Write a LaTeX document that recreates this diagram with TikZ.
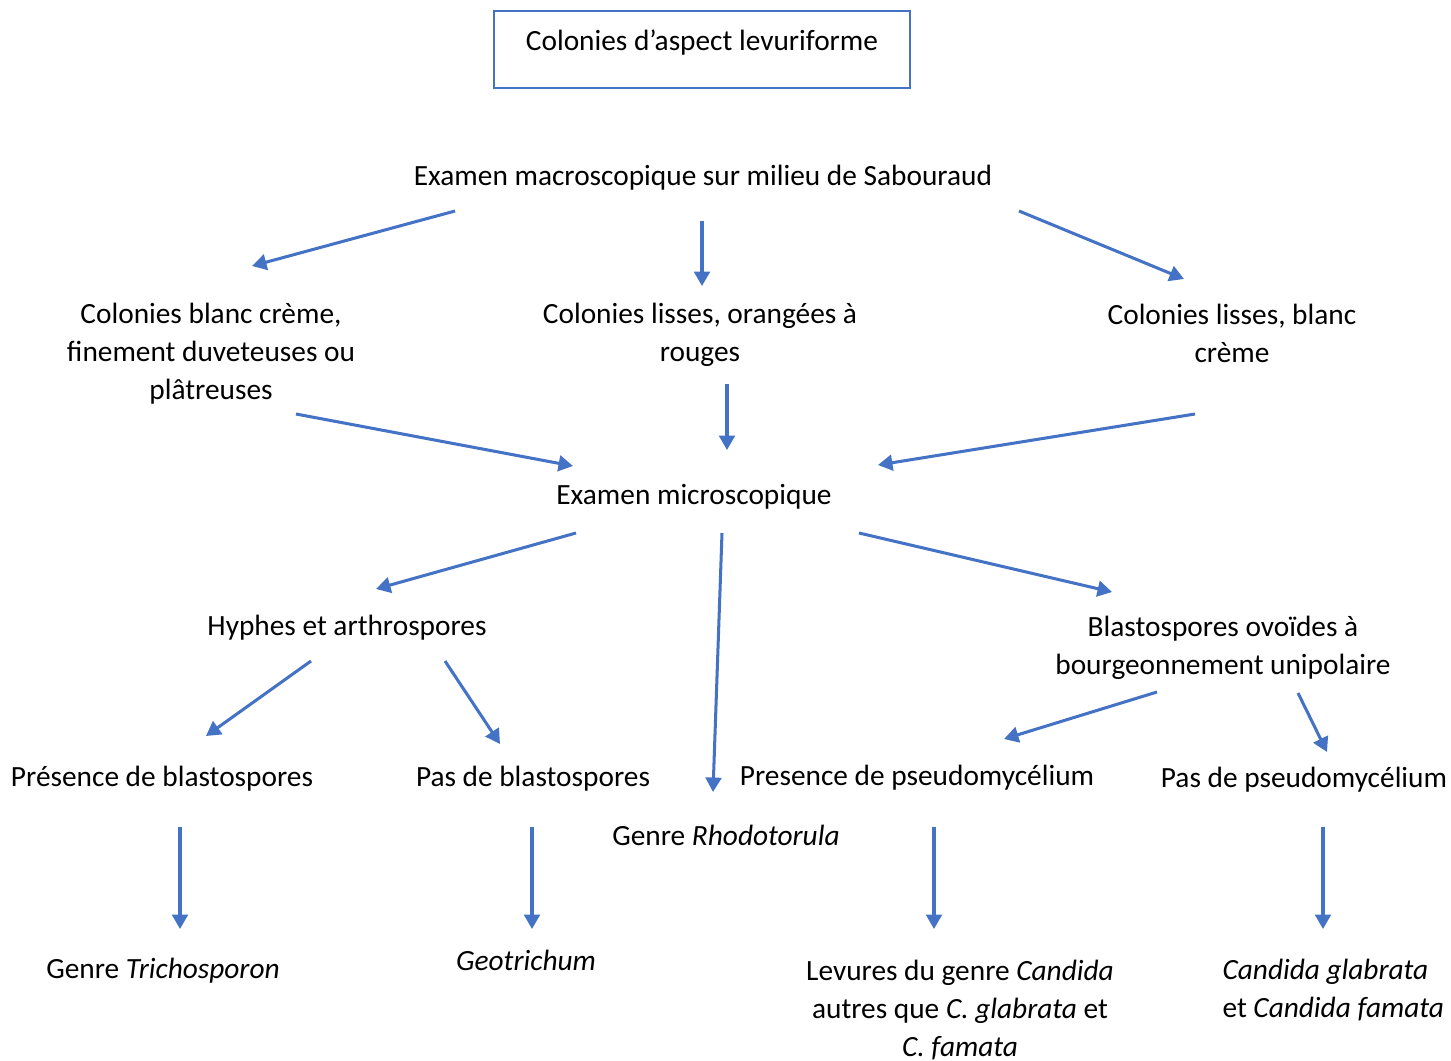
\documentclass[tikz,border=0pt]{standalone}
\usepackage{fontspec}
\setmainfont{Carlito}
\usepackage{tikz}
\usetikzlibrary{arrows.meta}
\definecolor{accentblue}{HTML}{4472C4}
\tikzset{
  label/.style={inner sep=0pt, align=center, yshift=-0.7pt, font=\fontsize{11.15}{14.4}\selectfont},
  arrow/.style={draw=accentblue, line width=1.15pt, -{Triangle[length=5.5pt,width=6pt]}}
}

\begin{document}
\begin{tikzpicture}[x=0.38pt, y=-0.38pt]
%%% bounding box %%%
\useasboundingbox (0,0) rectangle (1451,1061);

      \node[label, draw=accentblue, line width=0.6pt, minimum width=158pt, yshift=0.7pt,
            text height=14.8pt, text depth=14.4pt, inner ysep=0pt] (colonies) at (702,49.5)
            {Colonies d’aspect levuriforme};
      %%
      \node[label] (macro) at (703,176) {Examen macroscopique sur milieu de Sabouraud};
      %% first level
      \node[label] (platreuses) at (211,352) {Colonies blanc crème,\\ finement duveteuses ou\\ plâtreuses};
      \node[label] (rouges) at (700,333) {Colonies lisses, orangées à\\ rouges};
      \node[label] (creme) at (1232,332) {Colonies lisses, blanc\\ crème};
      %%
      \node[label] (micro) at (694,495) {Examen microscopique};
      %% second level
      \node[label] (hyphes) at (347,626) {Hyphes et arthrospores};
      \node[label] (blasto) at (1223,646) {Blastospores ovoïdes à\\ bourgeonnement unipolaire};
      %% third level
      \node[label] (presblasto) at (162,777) {Présence de blastospores};
      \node[label] (pasblasto) at (533,777) {Pas de blastospores};
      \node[label] (rhodo) at (726,834) {Genre \textit{Rhodotorula}};
      \node[label] (prespseudo) at (917,776) {Presence de pseudomycélium};
      \node[label] (paspseudo) at (1304,778) {Pas de pseudomycélium};
      %% results
      \node[label] (tricho) at (163,969) {Genre \textit{Trichosporon}};
      \node[label] (geo) at (526,959) {\textit{Geotrichum}};
      \node[label] (candida) at (960,1008) {Levures du genre \textit{Candida}\\ autres que \textit{C. glabrata} et\\ \textit{C. famata}};
      \node[label, align=left, anchor=west] (glabrata) at (1222,988) {\textit{Candida glabrata}\\ et \textit{Candida famata}};

%%% arrow ends %%%
      \coordinate (m1) at (455,211);  \coordinate (p1) at (252,266);
      \coordinate (m2) at (702,221);  \coordinate (r1) at (702,286);
      \coordinate (m3) at (1019,211); \coordinate (c1) at (1184,279);
      \coordinate (p2) at (296,414);  \coordinate (x1) at (573,466);
      \coordinate (r2) at (727,384);  \coordinate (x2) at (727,450);
      \coordinate (c2) at (1195,414); \coordinate (x3) at (878,465);
      \coordinate (x4) at (576,533);  \coordinate (h1) at (376,589);
      \coordinate (x5) at (722,533);  \coordinate (rh) at (713,792);
      \coordinate (x6) at (859,533);  \coordinate (b1) at (1112,592);
      \coordinate (h2) at (311,661);  \coordinate (pb1) at (206,736);
      \coordinate (h3) at (445,661);  \coordinate (nb1) at (500,744);
      \coordinate (b2) at (1157,692); \coordinate (pp1) at (1004,739);
      \coordinate (b3) at (1298,693); \coordinate (np1) at (1327,752);
      \coordinate (pb2) at (180,827); \coordinate (tr) at (180,929);
      \coordinate (nb2) at (532,827); \coordinate (ge) at (532,929);
      \coordinate (pp2) at (934,827); \coordinate (ca) at (934,929);
      \coordinate (np2) at (1323,827); \coordinate (gl) at (1323,929);

%%% arrows %%%
      \draw[arrow] (m1) -- (p1);
      \draw[arrow] (m2) -- (r1);
      \draw[arrow] (m3) -- (c1);
      \draw[arrow] (p2) -- (x1);
      \draw[arrow] (r2) -- (x2);
      \draw[arrow] (c2) -- (x3);
      \draw[arrow] (x4) -- (h1);
      \draw[arrow] (x5) -- (rh);
      \draw[arrow] (x6) -- (b1);
      \draw[arrow] (h2) -- (pb1);
      \draw[arrow] (h3) -- (nb1);
      \draw[arrow] (b2) -- (pp1);
      \draw[arrow] (b3) -- (np1);
      \draw[arrow] (pb2) -- (tr);
      \draw[arrow] (nb2) -- (ge);
      \draw[arrow] (pp2) -- (ca);
      \draw[arrow] (np2) -- (gl);

\end{tikzpicture}
\end{document}
